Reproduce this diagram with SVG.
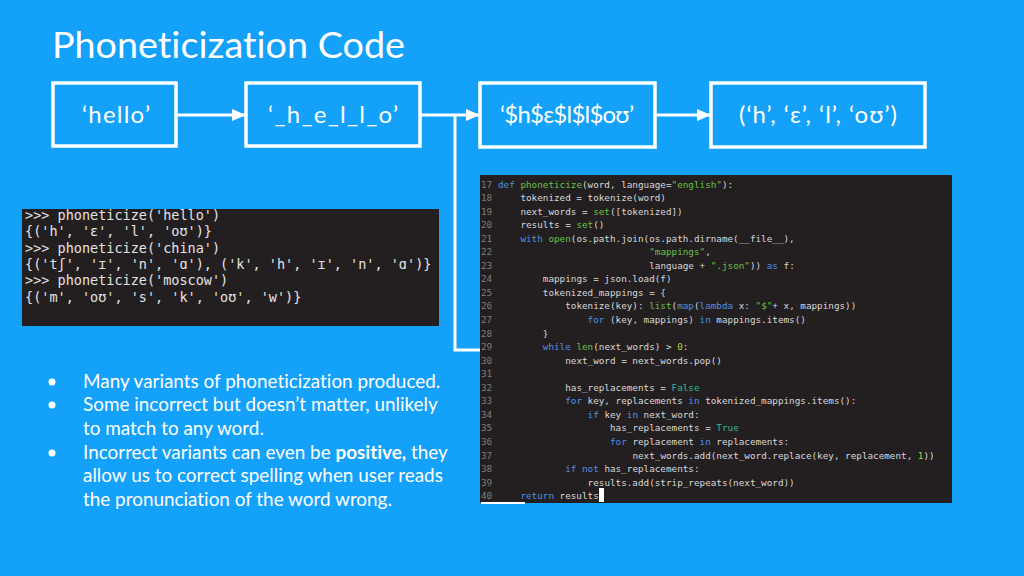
<svg xmlns="http://www.w3.org/2000/svg" width="1024" height="576" viewBox="0 0 1024 576">
<defs>
<marker id="ah" markerWidth="14" markerHeight="12" refX="13" refY="6" orient="auto" markerUnits="userSpaceOnUse">
<path d="M0,0 L14,6 L0,12 Z" fill="#fff"/>
</marker>
<style>
text{font-variant-ligatures:none}
.box{fill:none;stroke:#fff;stroke-width:3.5}
.lbl{font-family:Lato,"Noto Sans",sans-serif;font-size:24px;fill:#fff}
.con{stroke:#fff;stroke-width:3;fill:none}
.body{font-family:Lato,"Noto Sans",sans-serif;font-size:18.9px;fill:#fff}
.term{font-family:"DejaVu Sans Mono",monospace;font-size:13.5px;fill:#e4e4e4}
.code{font-family:"DejaVu Sans Mono",monospace;font-size:9.3px;fill:#d8d8d8}
.ln{fill:#7d7d7d}
.k{fill:#4d8fe6}
.f{fill:#69c146}
.s{fill:#69c146}
.n{fill:#9fd43c}
.c{fill:#2fb79a}
</style>
</defs>
<rect width="1024" height="576" fill="#13a1f9"/>
<text x="52" y="58" font-family="Lato,'Noto Sans',sans-serif" font-size="36" fill="#fff" textLength="353" lengthAdjust="spacingAndGlyphs">Phoneticization Code</text>

<g id="connectors">
<line class="con" x1="177" y1="115" x2="245" y2="115" marker-end="url(#ah)"/>
<line class="con" x1="421" y1="115" x2="479" y2="115" marker-end="url(#ah)"/>
<line class="con" x1="655" y1="115" x2="710" y2="115" marker-end="url(#ah)"/>
<polyline class="con" points="455,115 455,350 480,350"/>
</g>

<g id="node-hello">
<rect class="box" x="53" y="83" width="123" height="63"/>
<text class="lbl" x="82" y="123" textLength="68" lengthAdjust="spacing">‘hello’</text>
</g>
<g id="node-tokenized">
<rect class="box" x="246" y="83" width="174" height="63"/>
<text class="lbl" x="268" y="123" textLength="130" lengthAdjust="spacing">‘_h_e_l_l_o’</text>
</g>
<g id="node-mapped">
<rect class="box" x="480" y="83" width="175" height="64"/>
<text class="lbl" x="500" y="123" textLength="134" lengthAdjust="spacing">‘$h$ɛ$l$l$oʊ’</text>
</g>
<g id="node-result">
<rect class="box" x="711" y="83" width="214" height="64"/>
<text class="lbl" x="739" y="123" textLength="158" lengthAdjust="spacing">(‘h’, ‘ɛ’, ‘l’, ‘oʊ’)</text>
</g>

<g id="terminal">
<rect x="22" y="209" width="417" height="117" fill="#231f20"/>
<g class="term" xml:space="preserve">
<text x="25" y="220">&gt;&gt;&gt; phoneticize('hello')</text>
<text x="25" y="236">{('h', 'ɛ', 'l', 'oʊ')}</text>
<text x="25" y="252.5">&gt;&gt;&gt; phoneticize('china')</text>
<text x="25" y="269">{('tʃ', 'ɪ', 'n', 'ɑ'), ('k', 'h', 'ɪ', 'n', 'ɑ')}</text>
<text x="25" y="285">&gt;&gt;&gt; phoneticize('moscow')</text>
<text x="25" y="301.5">{('m', 'oʊ', 's', 'k', 'oʊ', 'w')}</text>
</g>
</g>

<g id="code">
<rect x="480" y="175" width="472" height="328" fill="#231f20"/>
<g class="code" xml:space="preserve">
<text class="ln" x="481" y="187.5">17</text>
<text class="ln" x="481" y="201">18</text>
<text class="ln" x="481" y="214.6">19</text>
<text class="ln" x="481" y="228.1">20</text>
<text class="ln" x="481" y="241.7">21</text>
<text class="ln" x="481" y="255.2">22</text>
<text class="ln" x="481" y="268.8">23</text>
<text class="ln" x="481" y="282.3">24</text>
<text class="ln" x="481" y="295.9">25</text>
<text class="ln" x="481" y="309.4">26</text>
<text class="ln" x="481" y="323">27</text>
<text class="ln" x="481" y="336.5">28</text>
<text class="ln" x="481" y="350.1">29</text>
<text class="ln" x="481" y="363.6">30</text>
<text class="ln" x="481" y="377.2">31</text>
<text class="ln" x="481" y="390.7">32</text>
<text class="ln" x="481" y="404.3">33</text>
<text class="ln" x="481" y="417.8">34</text>
<text class="ln" x="481" y="431.4">35</text>
<text class="ln" x="481" y="444.9">36</text>
<text class="ln" x="481" y="458.5">37</text>
<text class="ln" x="481" y="472">38</text>
<text class="ln" x="481" y="485.6">39</text>
<text class="ln" x="481" y="499.1">40</text>

<text x="498" y="187.5"><tspan class="k">def</tspan> <tspan class="f">phoneticize</tspan>(word, language=<tspan class="s">"english"</tspan>):</text>
<text x="520.4" y="201">tokenized = tokenize(word)</text>
<text x="520.4" y="214.6">next_words = <tspan class="f">set</tspan>([tokenized])</text>
<text x="520.4" y="228.1">results = <tspan class="f">set</tspan>()</text>
<text x="520.4" y="241.7"><tspan class="k">with</tspan> <tspan class="f">open</tspan>(os.path.join(os.path.dirname(__file__),</text>
<text x="649.2" y="255.2"><tspan class="s">"mappings"</tspan>,</text>
<text x="649.2" y="268.8">language + <tspan class="s">".json"</tspan>)) <tspan class="k">as</tspan> f:</text>
<text x="542.8" y="282.3">mappings = json.load(f)</text>
<text x="542.8" y="295.9">tokenized_mappings = {</text>
<text x="565.2" y="309.4">tokenize(key): <tspan class="f">list</tspan>(<tspan class="k">map</tspan>(<tspan class="k">lambda</tspan> x: <tspan class="s">"$"</tspan>+ x, mappings))</text>
<text x="587.6" y="323"><tspan class="k">for</tspan> (key, mappings) <tspan class="k">in</tspan> mappings.items()</text>
<text x="542.8" y="336.5">}</text>
<text x="542.8" y="350.1"><tspan class="k">while</tspan> <tspan class="f">len</tspan>(next_words) &gt; <tspan class="n">0</tspan>:</text>
<text x="565.2" y="363.6">next_word = next_words.pop()</text>
<text x="565.2" y="390.7">has_replacements = <tspan class="c">False</tspan></text>
<text x="565.2" y="404.3"><tspan class="k">for</tspan> key, replacements <tspan class="k">in</tspan> tokenized_mappings.items():</text>
<text x="587.6" y="417.8"><tspan class="k">if</tspan> key <tspan class="k">in</tspan> next_word:</text>
<text x="610" y="431.4">has_replacements = <tspan class="c">True</tspan></text>
<text x="610" y="444.9"><tspan class="k">for</tspan> replacement <tspan class="k">in</tspan> replacements:</text>
<text x="632.4" y="458.5">next_words.add(next_word.replace(key, replacement, <tspan class="n">1</tspan>))</text>
<text x="565.2" y="472"><tspan class="k">if</tspan> <tspan class="k">not</tspan> has_replacements:</text>
<text x="587.6" y="485.6">results.add(strip_repeats(next_word))</text>
<text x="520.4" y="499.1"><tspan class="k">return</tspan> results</text>
</g>
<rect x="599" y="488" width="5" height="14" fill="#fff"/>
<line x1="481" y1="503" x2="525" y2="503" stroke="#fff" stroke-width="2"/>
</g>

<g id="bullets" class="body">
<circle cx="52" cy="382" r="3.5" fill="#fff"/>
<circle cx="52" cy="405" r="3.5" fill="#fff"/>
<circle cx="52" cy="453" r="3.5" fill="#fff"/>
<text x="83" y="388">Many variants of phoneticization produced.</text>
<text x="83" y="411">Some incorrect but doesn’t matter, unlikely</text>
<text x="83" y="434.5">to match to any word.</text>
<text x="83" y="458.5">Incorrect variants can even be <tspan font-weight="bold">positive,</tspan> they</text>
<text x="83" y="482">allow us to correct spelling when user reads</text>
<text x="83" y="505.5">the pronunciation of the word wrong.</text>
</g>
</svg>
